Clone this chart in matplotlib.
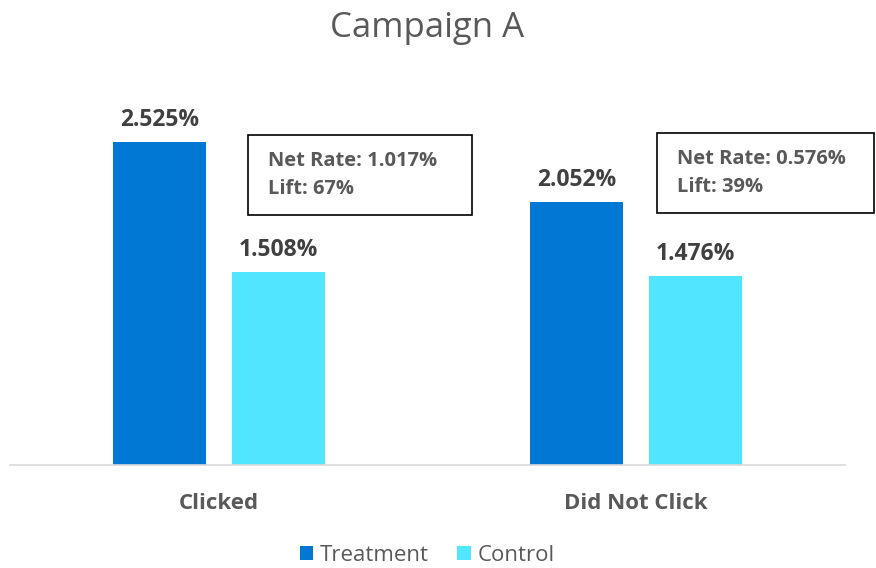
import numpy as np
import matplotlib.pyplot as plt
from matplotlib.patches import Rectangle

plt.rcParams['font.family'] = ['Open Sans', 'DejaVu Sans']

categories = ['Clicked', 'Did Not Click']
treatment = [2.525, 2.052]
control = [1.508, 1.476]
series_names = ['Treatment', 'Control']
colors = ['#0078d4', '#50e6ff']

fig = plt.figure(figsize=(8.76, 5.68), dpi=100)
ax = fig.add_axes([0.0114, 0.1813, 0.9532, 0.6761])

x = np.arange(len(categories))
w = 0.223
off = 0.1425
b1 = ax.bar(x - off, treatment, w, color=colors[0], label=series_names[0])
b2 = ax.bar(x + off, control, w, color=colors[1], label=series_names[1])

for bars in (b1, b2):
    for r in bars:
        ax.text(r.get_x() + r.get_width() / 2, r.get_height() + 0.08,
                f'{r.get_height():.3f}%', ha='center', va='bottom',
                fontsize=16.5, fontweight='bold', color='#404040')

# net rate / lift boxes
box_x = [0.07, 1.05]
box_top = [2.578, 2.594]
box_w = [0.537, 0.52]
box_h = 0.625
for i in range(len(categories)):
    net = treatment[i] - control[i]
    lift = net / control[i] * 100
    rect = Rectangle((box_x[i], box_top[i] - box_h), box_w[i], box_h,
                     fill=False, edgecolor='black', linewidth=1.2, clip_on=False)
    ax.add_patch(rect)
    ax.text(box_x[i] + 0.048, box_top[i] - 0.2, f'Net Rate: {net:.3f}%',
            ha='left', va='center', fontsize=14.5, fontweight='bold', color='#595959')
    ax.text(box_x[i] + 0.048, box_top[i] - 0.42, f'Lift: {lift:.0f}%',
            ha='left', va='center', fontsize=14.5, fontweight='bold', color='#595959')

ax.set_xlim(-0.5, 1.5)
ax.set_ylim(0, 3.0)
ax.set_xticks(x)
ax.set_xticklabels(categories, fontsize=16, fontweight='bold', color='#595959')
ax.tick_params(axis='x', length=0, pad=20)
ax.set_yticks([])
for s in ['top', 'right', 'left']:
    ax.spines[s].set_visible(False)
ax.spines['bottom'].set_color('#d9d9d9')
ax.spines['bottom'].set_linewidth(1.2)

fig.text(0.4875, 0.95, 'Campaign A', ha='center', va='center', fontsize=25, color='#595959')

fig.legend(loc='center', bbox_to_anchor=(0.4875, 0.022), ncol=2, frameon=False,
           fontsize=16, labelcolor='#595959', handlelength=0.6, handleheight=0.6,
           handletextpad=0.3, columnspacing=1.3, borderpad=0.1)

fig.savefig('out.png', dpi=100)
